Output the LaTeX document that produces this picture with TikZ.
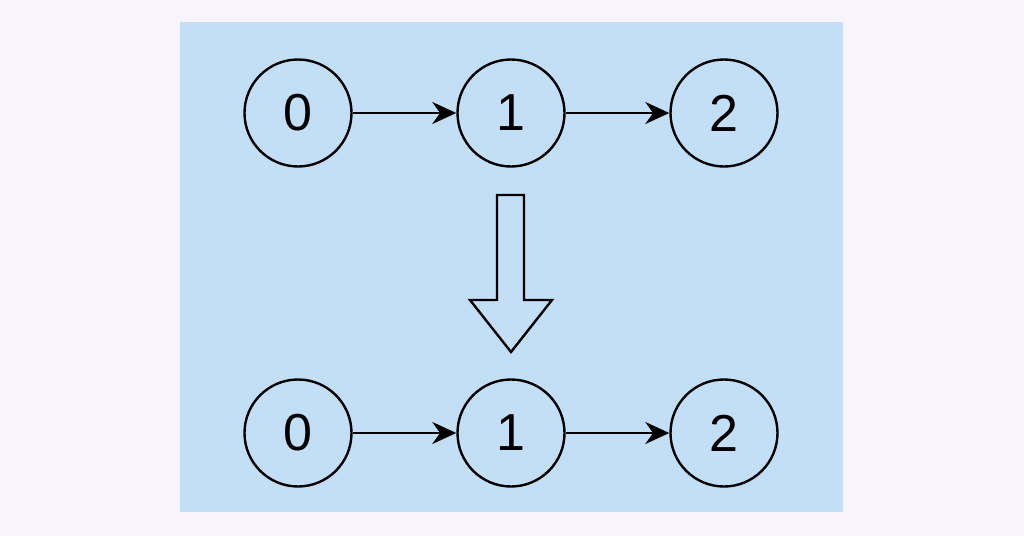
\documentclass[tikz,border=0pt]{standalone}
\usepackage{fontspec}
\setmainfont{Liberation Sans}
\usetikzlibrary{arrows.meta}
\definecolor{lavender}{HTML}{F8F4FD}
\definecolor{paleblue}{HTML}{C3DEF7}
\begin{document}
\begin{tikzpicture}[x=0.5pt,y=-0.5pt,
	vertex/.style={circle,draw,line width=1.2pt,minimum size=53.5pt,inner sep=0pt,font=\fontsize{26}{26}\selectfont},
	link/.style={line width=1.2pt,-{Stealth[length=12pt,width=11pt]}}]
%background
\useasboundingbox[fill=lavender] (0,0) rectangle (1024,536);
\fill[paleblue] (180,22) rectangle (843,512);
%list before
\node[vertex] (a0) at (298,113) {0};
\node[vertex] (a1) at (511,113) {1};
\node[vertex] (a2) at (724,113) {2};
\draw[link] (a0) -- (a1);
\draw[link] (a1) -- (a2);
%big arrow
\draw[line width=1.2pt,line join=miter] (497,195) -- (524,195) -- (524,300) -- (552,300)
	-- (511,352) -- (470,300) -- (497,300) -- cycle;
%list after
\node[vertex] (b0) at (298,433) {0};
\node[vertex] (b1) at (511,433) {1};
\node[vertex] (b2) at (724,433) {2};
\draw[link] (b0) -- (b1);
\draw[link] (b1) -- (b2);
\end{tikzpicture}
\end{document}
